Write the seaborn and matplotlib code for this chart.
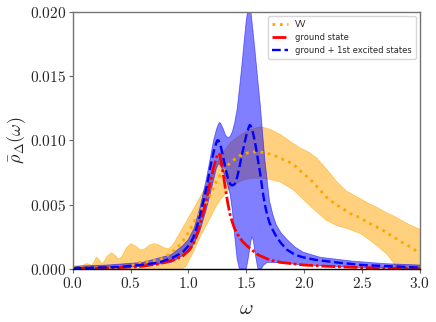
import numpy as np
import pandas as pd
import matplotlib
matplotlib.use("Agg")
import matplotlib.pyplot as plt
import seaborn as sns

sns.set_style("white")
plt.rcParams['mathtext.fontset'] = 'cm'
plt.rcParams['font.family'] = ['DejaVu Sans']

# VV reconstruction (dotted line)
vv_w = [0.0, 0.1, 0.2, 0.3, 0.4, 0.47, 0.52, 0.58, 0.67, 0.75, 0.81, 0.87, 0.93, 0.97, 1.01,
        1.05, 1.10, 1.14, 1.18, 1.22, 1.25, 1.29, 1.33, 1.38, 1.44, 1.50, 1.56, 1.62, 1.68,
        1.75, 1.82, 1.90, 1.97, 2.05, 2.12, 2.19, 2.26, 2.33, 2.40, 2.48, 2.55, 2.62, 2.70,
        2.77, 2.84, 2.90, 2.95, 3.0]
vv = [0.0001, 0.0001, 0.0001, 0.00012, 0.00015, 0.0002, 0.0003, 0.0005, 0.0006, 0.0007, 0.0010,
      0.0014, 0.0019, 0.0024, 0.0030, 0.0037, 0.0044, 0.0050, 0.0056, 0.0064, 0.0070, 0.0075,
      0.0080, 0.0084, 0.0088, 0.0090, 0.0091, 0.0091, 0.0090, 0.0088, 0.0085, 0.0082, 0.0076,
      0.0070, 0.0063, 0.0056, 0.0051, 0.0047, 0.0043, 0.0040, 0.0036, 0.0033, 0.0029, 0.0025,
      0.0021, 0.0018, 0.0015, 0.0013]

# VV uncertainty band
vv_band_w = [0.0, 0.04, 0.08, 0.10, 0.12, 0.14, 0.16, 0.18, 0.20, 0.22, 0.24, 0.26, 0.29,
             0.33, 0.36, 0.39, 0.42, 0.46, 0.50, 0.54, 0.58, 0.62, 0.66, 0.70, 0.74, 0.78,
             0.82, 0.85, 0.88, 0.93, 0.97, 1.0, 1.04, 1.07, 1.10, 1.16, 1.24, 1.27, 1.36, 1.45,
             1.53, 1.62, 1.70, 1.79, 1.90, 1.97, 2.04, 2.10, 2.19, 2.28, 2.36, 2.48, 2.56,
             2.63, 2.71, 2.76, 2.80, 2.90, 3.0]
vv_upper = [0.00025, 0.00025, 0.0003, 0.0004, 0.00045, 0.0004, 0.0003, 0.0006, 0.00095, 0.0008,
            0.0005, 0.0005, 0.0010, 0.0013, 0.0011, 0.0008, 0.0010, 0.0017, 0.0020, 0.0018,
            0.0015, 0.0016, 0.0019, 0.0020, 0.0019, 0.0017, 0.0016, 0.0018, 0.0022, 0.0030,
            0.0036, 0.0041, 0.0047, 0.0052, 0.0057, 0.0067, 0.0083, 0.0088, 0.0099, 0.0105,
            0.0109, 0.0111, 0.0109, 0.0105, 0.0098, 0.0094, 0.0091, 0.0087, 0.0078, 0.0068,
            0.0061, 0.0055, 0.0051, 0.0048, 0.0044, 0.0042, 0.0040, 0.0035, 0.0031]
vv_lower = [0.0, 0.0, 0.0, 0.0, 0.0, 0.0, 0.0, 0.0, 0.0, 0.0, 0.0, 0.0, 0.0, 0.0, 0.0, 0.0, 0.0,
            0.0, 0.0, 0.0, 0.0, 0.0, 0.0, 0.0, 0.0, 0.0, 0.0, 0.0, 0.0, 0.0, 0.0002, 0.0007,
            0.0014, 0.0020, 0.0026, 0.0036, 0.0050, 0.0054, 0.0064, 0.0069, 0.0071, 0.0071,
            0.0070, 0.0068, 0.0062, 0.0056, 0.0050, 0.0045, 0.0038, 0.0034, 0.0032, 0.0028,
            0.0023, 0.0018, 0.0012, 0.0006, 0.0, 0.0, 0.0]

# ground state only
gs_w = [0.0, 0.2, 0.4, 0.58, 0.75, 0.87, 0.95, 1.01, 1.04, 1.07, 1.10, 1.13, 1.16, 1.18, 1.20,
        1.22, 1.24, 1.25, 1.26, 1.27, 1.28, 1.30, 1.32, 1.34, 1.36, 1.38, 1.40, 1.43, 1.47,
        1.53, 1.60, 1.70, 1.80, 1.90, 2.0, 2.2, 2.5, 2.8, 3.0]
gs = [0.00003, 0.00006, 0.0001, 0.00018, 0.0004, 0.0007, 0.0010, 0.0015, 0.0019, 0.0026, 0.0035,
      0.0045, 0.0056, 0.0064, 0.0072, 0.0080, 0.0086, 0.0089, 0.0090, 0.0089, 0.0085, 0.0074,
      0.0062, 0.0051, 0.0042, 0.0036, 0.0031, 0.0026, 0.0021, 0.0016, 0.0011, 0.0007, 0.0005,
      0.0004, 0.0003, 0.0002, 0.0001, 0.00005, 0.00003]

# ground + 1st excited states
ex_w = [0.0, 0.2, 0.4, 0.58, 0.75, 0.87, 0.95, 1.01, 1.04, 1.07, 1.10, 1.13, 1.16, 1.18, 1.20,
        1.22, 1.24, 1.25, 1.26, 1.28, 1.30, 1.32, 1.34, 1.36, 1.38, 1.40, 1.42, 1.44, 1.46,
        1.48, 1.50, 1.52, 1.53, 1.54, 1.56, 1.58, 1.60, 1.62, 1.64, 1.66, 1.68, 1.70, 1.73,
        1.76, 1.80, 1.85, 1.92, 1.99, 2.1, 2.28, 2.5, 2.75, 3.0]
ex = [0.00005, 0.0001, 0.00015, 0.0003, 0.0005, 0.0009, 0.0013, 0.0019, 0.0024, 0.0032, 0.0042,
      0.0053, 0.0065, 0.0075, 0.0084, 0.0092, 0.0098, 0.0100, 0.0100, 0.0095, 0.0087, 0.0078,
      0.0071, 0.0066, 0.0065, 0.0066, 0.0071, 0.0079, 0.0088, 0.0096, 0.0104, 0.0110, 0.0112,
      0.0111, 0.0105, 0.0096, 0.0085, 0.0074, 0.0061, 0.0050, 0.0042, 0.0036, 0.0030, 0.0025,
      0.0020, 0.0015, 0.0011, 0.0009, 0.0007, 0.0005, 0.0003, 0.0002, 0.0001]

# band of the excited-state reconstruction
ex_up_w = [0.0, 0.3, 0.6, 0.85, 0.95, 1.0, 1.05, 1.10, 1.15, 1.18, 1.20, 1.22, 1.24, 1.26, 1.27,
           1.28, 1.30, 1.32, 1.34, 1.36, 1.38, 1.40, 1.42, 1.44, 1.46, 1.48, 1.50, 1.52, 1.54,
           1.56, 1.58, 1.60, 1.62, 1.64, 1.66, 1.68, 1.70, 1.73, 1.76, 1.80, 1.85, 1.92, 1.99,
           2.14, 2.42, 2.71, 3.0]
ex_upper = [0.0002, 0.0003, 0.0005, 0.0011, 0.0018, 0.0023, 0.0032, 0.0048, 0.0068, 0.0082,
            0.0092, 0.0101, 0.0108, 0.0113, 0.0114, 0.0113, 0.0109, 0.0104, 0.0102, 0.0103,
            0.0107, 0.0114, 0.0124, 0.0140, 0.0157, 0.0176, 0.0194, 0.0205, 0.0200, 0.0183,
            0.0165, 0.0146, 0.0128, 0.0106, 0.0085, 0.0069, 0.0053, 0.0042, 0.0034, 0.0028,
            0.0023, 0.0017, 0.0013, 0.0009, 0.0006, 0.0004, 0.0003]
ex_lo_w = [0.0, 0.3, 0.6, 0.85, 1.0, 1.05, 1.10, 1.15, 1.20, 1.24, 1.26, 1.28, 1.30, 1.33, 1.36,
           1.38, 1.40, 1.42, 1.44, 1.50, 1.52, 1.54, 1.55, 1.56, 1.58, 1.60, 1.63, 1.65, 1.68,
           1.75, 2.0, 2.5, 3.0]
ex_lower = [0.0, 0.00005, 0.0002, 0.0005, 0.0013, 0.0020, 0.0030, 0.0045, 0.0063, 0.0078, 0.0082,
            0.0080, 0.0076, 0.0068, 0.0058, 0.0045, 0.0025, 0.0008, 0.0, 0.0, 0.0010, 0.0022,
            0.0025, 0.0022, 0.0010, 0.0, 0.0, 0.0003, 0.0005, 0.0005, 0.0003, 0.0001, 0.0]

df_vv = pd.DataFrame({'w': vv_w, 'rho': vv})
df_gs = pd.DataFrame({'w': gs_w, 'rho': gs})
df_ex = pd.DataFrame({'w': ex_w, 'rho': ex})

fig, ax = plt.subplots(figsize=(4.36, 3.22), dpi=100)
fig.subplots_adjust(left=0.167, right=0.963, top=0.963, bottom=0.165)

# bands
ax.fill_between(vv_band_w, vv_lower, vv_upper, color='orange', alpha=0.5, linewidth=0.6)
ax.fill(np.concatenate([ex_up_w, ex_lo_w[::-1]]), np.concatenate([ex_upper, ex_lower[::-1]]),
        color='blue', alpha=0.5, linewidth=0.6)

# lines
sns.lineplot(ax=ax, data=df_vv, x='w', y='rho', color='orange', linestyle=':', linewidth=2,
             label='VV')
sns.lineplot(ax=ax, data=df_gs, x='w', y='rho', color='red', linestyle=(0, (5, 1, 1, 1)),
             linewidth=2, label='ground state')
sns.lineplot(ax=ax, data=df_ex, x='w', y='rho', color='blue', linestyle='--', linewidth=1.7,
             label='ground + 1st excited states')

ax.set_xlim(0, 3)
ax.set_ylim(0, 0.020)
xt = [0.0, 0.5, 1.0, 1.5, 2.0, 2.5, 3.0]
yt = [0.000, 0.005, 0.010, 0.015, 0.020]
ax.set_xticks(xt)
ax.set_xticklabels([f'${v:.1f}$' for v in xt], fontsize=11)
ax.set_yticks(yt)
ax.set_yticklabels([f'${v:.3f}$' for v in yt], fontsize=11)
ax.tick_params(axis='both', direction='out', length=3, width=0.8, color='0.4', pad=2,
               bottom=True, left=True)
ax.set_xlabel(r'$\omega$', fontsize=15, labelpad=5)
ax.set_ylabel(r'$\bar{\rho}_\Delta(\omega)$', fontsize=13, labelpad=1)

for side in ['left', 'top', 'right']:
    ax.spines[side].set_color('0.45')
    ax.spines[side].set_linewidth(1.0)
ax.spines['bottom'].set_color('black')
ax.spines['bottom'].set_linewidth(1.0)

leg = ax.legend(loc='upper right', fontsize=6, frameon=True, handlelength=1.9,
                borderpad=0.5, labelspacing=0.45, fancybox=True)
leg.get_frame().set_edgecolor('0.8')

fig.savefig('out.png', dpi=100)
